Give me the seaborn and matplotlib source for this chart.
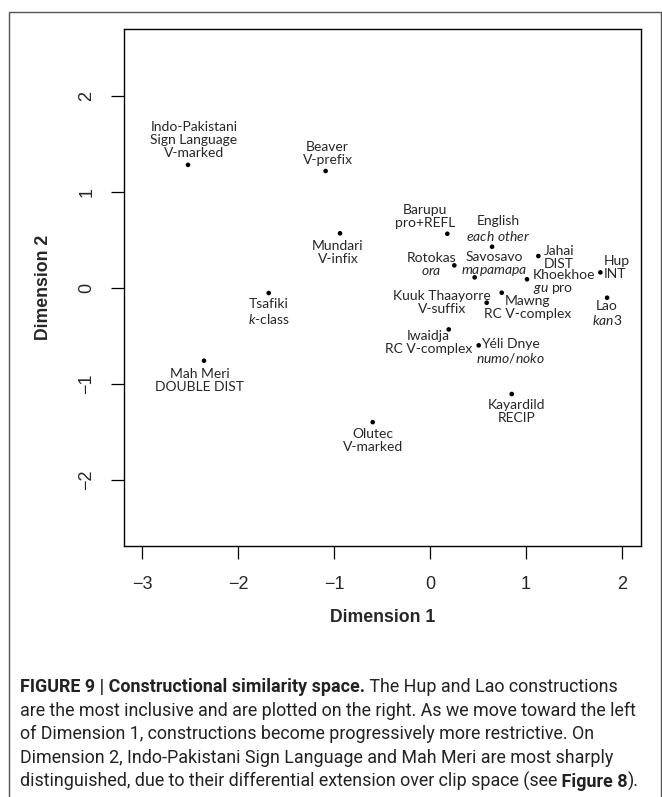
import matplotlib
matplotlib.use('Agg')
import matplotlib.pyplot as plt
import seaborn as sns
import pandas as pd
from matplotlib.patches import Rectangle

# MDS coordinates
languages = ['Indo-Pakistani\nSign Language', 'Beaver', 'Mundari', 'Tsafiki', 'Mah Meri',
             'Olutec', 'Barupu', 'English', 'Rotokas', 'Savosavo', 'Jahai', 'Khoekhoe',
             'Hup', 'Lao', 'Kuuk Thaayorre', 'Mawng', 'Iwaidja', 'Y\u00e9li Dnye', 'Kayardild']
constructions = ['V-marked', 'V-prefix', 'V-infix', r'$\mathit{k}$-class', 'DOUBLE DIST',
                 'V-marked', 'pro+REFL', r'$\mathit{each\ other}$', r'$\mathit{ora}$',
                 r'$\mathit{mapamapa}$', 'DIST', r'$\mathit{gu}$ pro', 'INT', r'$\mathit{kan3}$',
                 'V-suffix', 'RC V-complex', 'RC V-complex', r'$\mathit{numo/noko}$', 'RECIP']
dim1 = [-2.52, -1.087, -0.937, -1.68, -2.354, -0.597, 0.18, 0.646, 0.253, 0.465,
        1.128, 1.01, 1.774, 1.844, 0.59, 0.747, 0.195, 0.507, 0.851]
dim2 = [1.28, 1.216, 0.567, -0.055, -0.76, -1.40, 0.562, 0.427, 0.233, 0.108,
        0.33, 0.088, 0.16, -0.104, -0.156, -0.052, -0.434, -0.60, -1.107]

# where each label sits relative to its point (pixels, y up) and how it is aligned
label_offsets = [(6, 25), (2, 17), (-2, -19.5), (0, -19), (-4, -20), (0, -18.3), (-22, 17),
                 (6, 17.7), (-22.6, 1), (19.6, 12.6), (5.7, -1), (5.7, -3.5), (3.5, 4.5),
                 (0, -16), (-45, 0), (25.5, -14.5), (-20.4, -12.7), (31.5, -6.3), (5, -17.7)]
label_align = ['center'] * 10 + ['left', 'left', 'left'] + ['center'] * 6

caption = [
    [('FIGURE 9 | Constructional similarity space.', 'bold'), (' The Hup and Lao constructions', 'normal')],
    [('are the most inclusive and are plotted on the right. As we move toward the left', 'normal')],
    [('of Dimension 1, constructions become progressively more restrictive. On', 'normal')],
    [('Dimension 2, Indo-Pakistani Sign Language and Mah Meri are most sharply', 'normal')],
    [('distinguished, due to their differential extension over clip space (see', 'normal'),
     (' Figure 8', 'bold'), (').', 'normal')],
]

df = pd.DataFrame({'dim1': dim1, 'dim2': dim2,
                   'label': [l + '\n' + c for l, c in zip(languages, constructions)]})

sns.set_style('ticks')
plt.rcParams['font.family'] = ['Liberation Sans', 'DejaVu Sans']
plt.rcParams['mathtext.fontset'] = 'custom'
plt.rcParams['mathtext.rm'] = 'Lato'
plt.rcParams['mathtext.it'] = 'Lato:italic'

W, H = 662, 797
fig = plt.figure(figsize=(W / 100, H / 100), dpi=100)
ax = fig.add_axes([123.7 / W, 1 - 546 / H, (640.8 - 123.7) / W, (546 - 29) / H])

sns.scatterplot(data=df, x='dim1', y='dim2', ax=ax, color='black', s=11, edgecolor='none', legend=False)

for (x, y, lab), (dx, dy), ha in zip(df[['dim1', 'dim2', 'label']].values, label_offsets, label_align):
    ax.annotate(lab, (x, y), xytext=(dx, dy), textcoords='offset pixels', ha=ha, va='center',
                multialignment=ha, fontsize=10, family='Lato', linespacing=1.1)

ax.set_xlim(-3.19, 2.195)
ax.set_ylim(-2.69, 2.695)
ax.set_xticks([-3, -2, -1, 0, 1, 2])
ax.set_yticks([-2, -1, 0, 1, 2])
ax.set_yticklabels(['\u22122', '\u22121', '0', '1', '2'], rotation=90, va='center')
ax.tick_params(direction='out', length=9.5, width=0.9, labelsize=13, color='black')
ax.tick_params(axis='x', pad=12)
ax.tick_params(axis='y', pad=11)
for sp in ax.spines.values():
    sp.set_color('black')
    sp.set_linewidth(1.0)

ax.set_xlabel('Dimension 1', fontsize=12.7, fontweight='bold')
ax.set_ylabel('Dimension 2', fontsize=12.7, fontweight='bold')
ax.xaxis.set_label_coords(0.5, (546 - 617) / 517)
ax.yaxis.set_label_coords((43.3 - 123.7) / 517.1, 0.5)
ax.xaxis.label.set_va('center')
ax.yaxis.label.set_va('center')

# outer frame of the figure panel
fig.add_artist(Rectangle((9 / W, -0.02), (W - 10) / W, 1 - 11.7 / H + 0.02, transform=fig.transFigure,
                         fill=False, ec='#555555', lw=1.0))

cap_font = ['Roboto', 'DejaVu Sans']
for i, segs in enumerate(caption):
    ybase = 1 - (692 + i * 23.7) / H
    prev = None
    for txt, weight in segs:
        if prev is None:
            prev = fig.text(20 / W, ybase, txt, fontsize=12.9, fontweight=weight, family=cap_font,
                            va='baseline', ha='left', color='#222222')
        else:
            prev = ax.annotate(txt, xy=(1, 0), xycoords=prev, va='bottom', ha='left', fontsize=12.9,
                               fontweight=weight, family=cap_font, color='#222222', annotation_clip=False)

fig.savefig('out.png', dpi=100)
